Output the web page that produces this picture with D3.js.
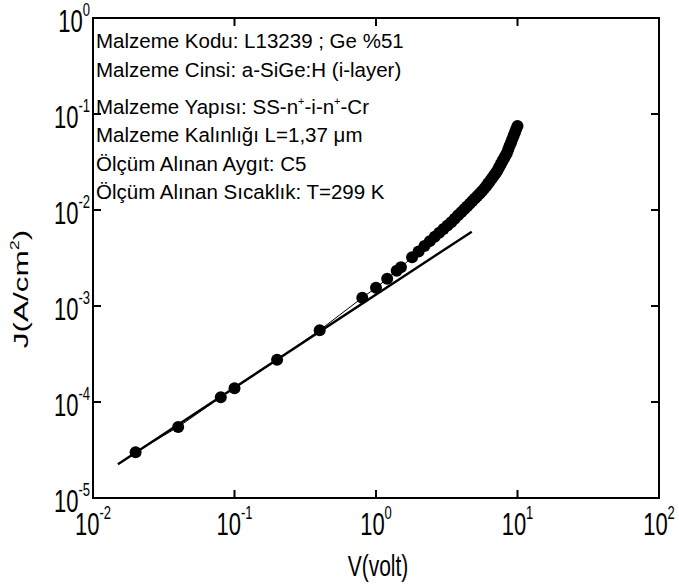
<!DOCTYPE html>
<html>
<head>
<meta charset="utf-8">
<script src="https://cdn.jsdelivr.net/npm/d3@7"></script>
<style>
  body { margin: 0; background: #fff; }
  svg { display: block; }
</style>
</head>
<body>
<svg id="chart" width="679" height="588"></svg>
<script>
// Measured J–V characteristic (forward bias)
const voltage = [
  0.02, 0.04, 0.08, 0.1, 0.2, 0.4, 0.8, 1.0, 1.2, 1.4, 1.5, 1.8,
  2.0, 2.2, 2.4, 2.6, 2.8, 3.0, 3.2, 3.4, 3.6, 3.8, 4.0, 4.2, 4.4, 4.6, 4.8,
  5.0, 5.2, 5.4, 5.6, 5.8, 6.0, 6.2, 6.4, 6.6, 6.8, 7.0, 7.2, 7.4, 7.6, 7.8,
  8.0, 8.2, 8.4, 8.6, 8.8, 9.0, 9.2, 9.4, 9.6, 9.8, 10.0
];
const currentDensity = [
  3.0e-5, 5.5e-5, 1.12e-4, 1.39e-4, 2.75e-4, 5.6e-4, 1.22e-3, 1.55e-3, 1.92e-3, 2.33e-3, 2.53e-3, 3.22e-3,
  3.70e-3, 4.22e-3, 4.74e-3, 5.26e-3, 5.80e-3, 6.33e-3, 6.89e-3, 7.47e-3, 8.12e-3, 8.80e-3, 9.48e-3, 1.02e-2, 1.09e-2, 1.165e-2, 1.24e-2,
  1.32e-2, 1.40e-2, 1.48e-2, 1.57e-2, 1.66e-2, 1.77e-2, 1.89e-2, 2.01e-2, 2.14e-2, 2.28e-2, 2.42e-2, 2.57e-2, 2.77e-2, 2.98e-2, 3.20e-2,
  3.42e-2, 3.66e-2, 3.91e-2, 4.27e-2, 4.66e-2, 5.06e-2, 5.50e-2, 5.96e-2, 6.45e-2, 6.96e-2, 7.50e-2
];

// Ohmic-region power-law fit (end points)
const fitVoltage = [0.015, 4.75];
const fitCurrent = [2.25e-5, 5.95e-3];

// Axis ticks
const xTickValues = [1e-2, 1e-1, 1e0, 1e1, 1e2];
const xTickExponents = ["-2", "-1", "0", "1", "2"];
const yTickValues = [1e-5, 1e-4, 1e-3, 1e-2, 1e-1, 1e0];
const yTickExponents = ["-5", "-4", "-3", "-2", "-1", "0"];

// Sample information ("^+" marks a superscript plus)
const infoLines = [
  "Malzeme Kodu: L13239 ; Ge %51",
  "Malzeme Cinsi: a-SiGe:H (i-layer)",
  "Malzeme Yapısı: SS-n^+-i-n^+-Cr",
  "Malzeme Kalınlığı L=1,37 μm",
  "Ölçüm Alınan Aygıt: C5",
  "Ölçüm Alınan Sıcaklık: T=299 K"
];

const xLabel = "V(volt)";
const yLabelMain = "J(A/cm";
const yLabelSup = "2";

// ---- layout ----
const plot = { left: 93, top: 18, right: 659, bottom: 498 };
const FONT = "Arial, 'Liberation Sans', Helvetica, sans-serif";
const STRETCH = 1.4;           // axis text is drawn tall and narrow
const infoBaselines = [48, 77, 114, 142, 171, 199];

const svg = d3.select("#chart");

const x = d3.scaleLog().domain([1e-2, 1e2]).range([plot.left, plot.right]);
const y = d3.scaleLog().domain([1e-5, 1e0]).range([plot.bottom, plot.top]);

// ---- axes (inward ticks on all four sides) ----
function styleAxis(g) {
  g.select(".domain").remove();
  g.selectAll(".tick line").attr("stroke", "#000").attr("stroke-width", 2);
}
const TICK = 8;
svg.append("g").attr("transform", `translate(0,${plot.bottom})`)
  .call(d3.axisBottom(x).tickValues(xTickValues).tickSizeInner(-TICK).tickSizeOuter(0).tickFormat("").offset(0))
  .call(styleAxis);
svg.append("g").attr("transform", `translate(0,${plot.top})`)
  .call(d3.axisTop(x).tickValues(xTickValues).tickSizeInner(-TICK).tickSizeOuter(0).tickFormat("").offset(0))
  .call(styleAxis);
svg.append("g").attr("transform", `translate(${plot.left},0)`)
  .call(d3.axisLeft(y).tickValues(yTickValues).tickSizeInner(-TICK).tickSizeOuter(0).tickFormat("").offset(0))
  .call(styleAxis);
svg.append("g").attr("transform", `translate(${plot.right},0)`)
  .call(d3.axisRight(y).tickValues(yTickValues).tickSizeInner(-TICK).tickSizeOuter(0).tickFormat("").offset(0))
  .call(styleAxis);

// frame
svg.append("rect")
  .attr("x", plot.left).attr("y", plot.top)
  .attr("width", plot.right - plot.left).attr("height", plot.bottom - plot.top)
  .attr("fill", "none").attr("stroke", "#000").attr("stroke-width", 2);

// ---- tick labels: 10 with exponent ----
const EXP_RISE = 16 / STRETCH;
function powerLabel(sel, anchor) {
  sel.attr("font-family", FONT).attr("font-size", 22).attr("fill", "#000")
    .attr("text-anchor", anchor);
  sel.append("tspan").text("10");
  sel.append("tspan").attr("font-size", 13).attr("dy", -EXP_RISE).text(d => d.exp);
}

svg.append("g").selectAll("text")
  .data(xTickValues.map((v, i) => ({ v, exp: xTickExponents[i] })))
  .join("text")
  .attr("transform", d => `translate(${x(d.v)},535) scale(1,${STRETCH})`)
  .call(powerLabel, "middle");

svg.append("g").selectAll("text")
  .data(yTickValues.map((v, i) => ({ v, exp: yTickExponents[i] })))
  .join("text")
  .attr("transform", d => `translate(90,${y(d.v) + 14}) scale(1,${STRETCH})`)
  .call(powerLabel, "end");

// ---- axis titles ----
svg.append("text")
  .attr("transform", `translate(378,576) scale(1,${STRETCH})`)
  .attr("font-family", FONT).attr("font-size", 21).attr("text-anchor", "middle")
  .text(xLabel);

const yt = svg.append("text")
  .attr("transform", `translate(28,289) rotate(-90) scale(1.5,1)`)
  .attr("font-family", FONT).attr("font-size", 21).attr("text-anchor", "middle");
yt.append("tspan").text(yLabelMain);
yt.append("tspan").attr("font-size", 12).attr("dy", -9).text(yLabelSup);
yt.append("tspan").attr("dy", 9).text(")");

// ---- data ----
const points = voltage.map((v, i) => ({ v, j: currentDensity[i] }));

// thin line joining the measured points
svg.append("path")
  .datum(points)
  .attr("fill", "none").attr("stroke", "#000").attr("stroke-width", 1)
  .attr("d", d3.line().x(d => x(d.v)).y(d => y(d.j)));

// fit line
svg.append("path")
  .datum(fitVoltage.map((v, i) => ({ v, j: fitCurrent[i] })))
  .attr("fill", "none").attr("stroke", "#000").attr("stroke-width", 2.4)
  .attr("d", d3.line().x(d => x(d.v)).y(d => y(d.j)));

svg.append("g").selectAll("circle")
  .data(points)
  .join("circle")
  .attr("cx", d => x(d.v)).attr("cy", d => y(d.j))
  .attr("r", 6).attr("fill", "#000");

// ---- sample information ----
const info = svg.append("g")
  .attr("font-family", FONT).attr("font-size", 20.5).attr("fill", "#000");
infoLines.forEach((line, i) => {
  const t = info.append("text").attr("x", 96).attr("y", infoBaselines[i]);
  const parts = line.split("^+");
  parts.forEach((p, k) => {
    t.append("tspan").attr("dy", k > 0 ? 9 : null).text(p);
    if (k < parts.length - 1) {
      t.append("tspan").attr("font-size", 11).attr("dy", -9).text("+");
    }
  });
});
</script>
</body>
</html>
